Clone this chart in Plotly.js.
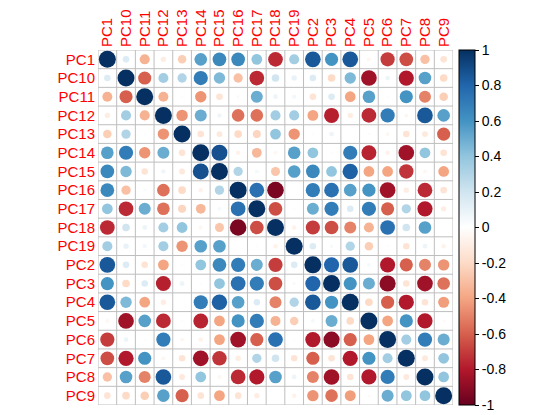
<!DOCTYPE html>
<html><head><meta charset="utf-8">
<script src="https://cdn.plot.ly/plotly-3.0.1.min.js"></script>
<style>body{margin:0;background:#fff}#c{width:556px;height:415px}</style>
</head><body><div id="c"></div>
<script>
const labels = ["PC1","PC10","PC11","PC12","PC13","PC14","PC15","PC16","PC17","PC18","PC19","PC2","PC3","PC4","PC5","PC6","PC7","PC8","PC9"];
const corr = [
 [1,0.15,-0.35,-0.1,-0.25,0.55,0.65,0.65,0.4,-0.75,0.35,0.85,0.6,0.85,-0.05,-0.7,-0.65,-0.3,-0.15],
 [0.15,1,-0.6,0.35,0.3,0.7,0.45,-0.3,-0.75,0.2,0.1,0.15,-0.2,0.45,-0.85,0.08,-0.8,0.55,-0.2],
 [-0.35,-0.6,1,-0.35,0.02,-0.45,-0.15,0.03,0.5,0.08,0.06,-0.15,0.15,-0.4,0.55,0.02,0.6,-0.5,-0.25],
 [-0.1,0.35,-0.35,1,-0.45,0.5,0.07,-0.55,-0.55,0.35,0.35,-0.4,-0.78,-0.1,-0.75,0.7,-0.05,0.85,0.55],
 [-0.25,0.3,0.02,-0.45,1,-0.15,-0.12,-0.2,-0.22,0.4,-0.45,0.02,0.08,0,0.02,-0.05,-0.15,-0.12,-0.6],
 [0.55,0.7,-0.45,0.5,-0.15,1,0.88,-0.07,-0.33,-0.05,0.55,0.4,0.02,0.7,-0.77,-0.07,-0.85,0.4,-0.15],
 [0.65,0.45,-0.15,0.07,-0.12,0.88,1,0.3,0.05,-0.28,0.55,0.65,0.4,0.82,-0.4,-0.4,-0.72,-0.05,-0.4],
 [0.65,-0.3,0.03,-0.55,-0.2,-0.07,0.3,1,0.75,-0.95,0,0.7,0.75,0.55,0.6,-0.85,-0.1,-0.75,-0.15],
 [0.4,-0.75,0.5,-0.55,-0.22,-0.33,0.05,0.75,1,-0.65,0.02,0.5,0.7,0.15,0.7,-0.6,0.3,-0.8,-0.1],
 [-0.75,0.2,0.08,0.35,0.4,-0.05,-0.28,-0.95,-0.65,1,-0.07,-0.7,-0.65,-0.5,-0.35,0.75,0.2,0.55,0],
 [0.35,0.1,0.06,0.35,-0.45,0.55,0.55,0,0.02,-0.07,1,0.15,0.04,0.3,-0.25,-0.02,-0.15,0.08,-0.07],
 [0.85,0.15,-0.15,-0.4,0.02,0.4,0.65,0.7,0.5,-0.7,0.15,1,0.8,0.85,0.05,-0.8,-0.6,-0.5,-0.45],
 [0.6,-0.2,0.15,-0.78,0.08,0.02,0.4,0.75,0.7,-0.65,0.04,0.8,1,0.6,0.5,-0.9,-0.15,-0.85,-0.55],
 [0.85,0.45,-0.4,-0.1,0,0.7,0.82,0.55,0.15,-0.5,0.3,0.85,0.6,1,-0.2,-0.6,-0.8,-0.15,-0.42],
 [-0.05,-0.85,0.55,-0.75,0.02,-0.77,-0.4,0.6,0.7,-0.35,-0.25,0.05,0.5,-0.2,1,-0.4,0.6,-0.8,-0.03],
 [-0.7,0.08,0.02,0.7,-0.05,-0.07,-0.4,-0.85,-0.6,0.75,-0.02,-0.8,-0.9,-0.6,-0.4,1,0.35,0.7,0.5],
 [-0.65,-0.8,0.6,-0.05,-0.15,-0.85,-0.72,-0.1,0.3,0.2,-0.15,-0.6,-0.15,-0.8,0.6,0.35,1,-0.12,0.4],
 [-0.3,0.55,-0.5,0.85,-0.12,0.4,-0.05,-0.75,-0.8,0.55,0.08,-0.5,-0.85,-0.15,-0.8,0.7,-0.12,1,0.4],
 [-0.15,-0.2,-0.25,0.55,-0.6,-0.15,-0.4,-0.15,-0.1,0,-0.07,-0.45,-0.55,-0.42,-0.03,0.5,0.4,0.4,1]
];
const cbTicks = [1,0.8,0.6,0.4,0.2,0,-0.2,-0.4,-0.6,-0.8,-1];

const palette = ["#67001F","#B2182B","#D6604D","#F4A582","#FDDBC7","#FFFFFF","#D1E5F0","#92C5DE","#4393C3","#2166AC","#053061"];
const colorscale = palette.map((c,i)=>[i/(palette.length-1), c]);

const n = labels.length;
const xs=[], ys=[], vals=[], sizes=[];
const maxD = 17;
for (let i=0;i<n;i++) for (let j=0;j<n;j++){
  xs.push(j); ys.push(i); vals.push(corr[i][j]);
  sizes.push(maxD*Math.sqrt(Math.abs(corr[i][j])));
}
const shapes=[];
for (let k=0;k<=n;k++){
  shapes.push({type:'line',xref:'x',yref:'y',x0:k-0.5,x1:k-0.5,y0:-0.5,y1:n-0.5,line:{color:'#BEBEBE',width:1},layer:'below'});
  shapes.push({type:'line',xref:'x',yref:'y',y0:k-0.5,y1:k-0.5,x0:-0.5,x1:n-0.5,line:{color:'#BEBEBE',width:1},layer:'below'});
}
const trace = {
  type:'scatter', mode:'markers', x:xs, y:ys,
  marker:{size:sizes, color:vals, cmin:-1, cmax:1, colorscale:colorscale, line:{width:0}, opacity:1,
    showscale:true,
    colorbar:{x:(459-98)/355, xanchor:'left', xpad:0, ypad:0, y:0.5, yanchor:'middle', len:1, lenmode:'fraction',
      thickness:16, outlinewidth:1, outlinecolor:'#000', tickvals:cbTicks, ticktext:cbTicks.map(String),
      ticks:'outside', ticklen:4, tickcolor:'#000', tickfont:{family:'Liberation Sans, Arial, sans-serif', size:14, color:'#000'}}
  },
  hoverinfo:'skip'
};
const layout = {
  width:556, height:415,
  margin:{l:98, r:103, t:50, b:10},
  paper_bgcolor:'#fff', plot_bgcolor:'#fff',
  showlegend:false,
  font:{family:'Liberation Sans, Arial, sans-serif'},
  xaxis:{range:[-0.5,n-0.5], side:'top', tickvals:[...Array(n).keys()], ticktext:labels, tickangle:-90,
    showgrid:false, zeroline:false, showline:false, ticks:'', ticklabelstandoff:2,
    tickfont:{size:15, color:'#FF0000', family:'Liberation Sans, Arial, sans-serif'}, fixedrange:true},
  yaxis:{range:[n-0.5,-0.5], tickvals:[...Array(n).keys()], ticktext:labels,
    showgrid:false, zeroline:false, showline:false, ticks:'', ticklabelstandoff:2,
    tickfont:{size:15, color:'#FF0000', family:'Liberation Sans, Arial, sans-serif'}, fixedrange:true},
  shapes:shapes
};
Plotly.newPlot('c',[trace],layout,{staticPlot:true});
</script></body></html>
